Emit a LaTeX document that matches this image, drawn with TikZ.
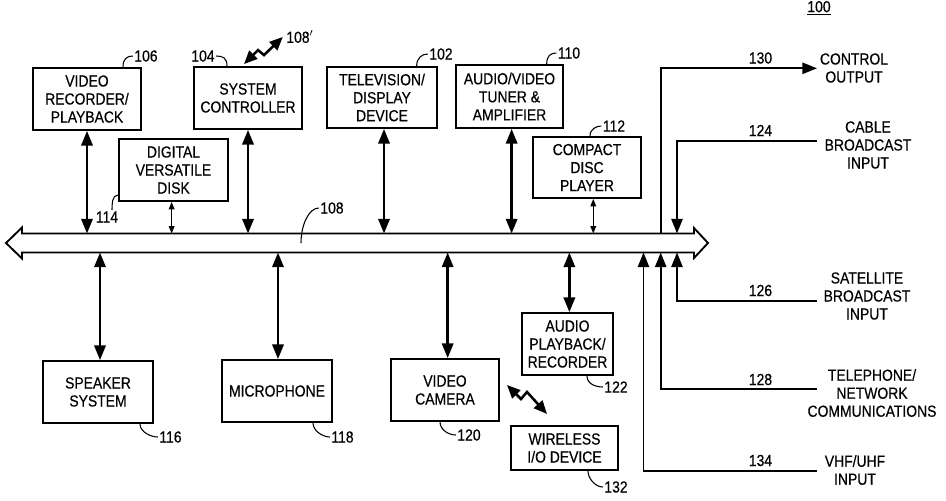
\documentclass[tikz,border=0pt]{standalone}
\usepackage{fontspec}
\setmainfont[FakeStretch=0.87,FakeBold=0.4]{Liberation Sans}
\usetikzlibrary{arrows.meta}
\begin{document}
\begin{tikzpicture}[x=0.75pt,y=-0.75pt,
  every node/.style={font=\fontsize{12}{13.5}\selectfont},
  box/.style={draw,line width=1.4pt,align=center,inner sep=0pt,minimum width=81pt,minimum height=46.5pt},
  txt/.style={align=center,inner sep=1pt},
  num/.style={inner sep=1pt},
  dbl/.style={line width=1.8pt,{Triangle[length=11pt,width=8.5pt]}-{Triangle[length=11pt,width=8.5pt]}},
  thindbl/.style={line width=0.9pt,{Triangle[length=5.5pt,width=4.2pt]}-{Triangle[length=5.5pt,width=4.2pt]}},
  sig/.style={line width=1.3pt,-{Triangle[length=11pt,width=8.5pt]}},
  hook/.style={line width=0.8pt},
  zig/.style={line width=1.9pt,line join=miter,{Triangle[length=10pt,width=8.5pt]}-{Triangle[length=10pt,width=8.5pt]}},
  busline/.style={line width=1.4pt,line join=miter}
]
\useasboundingbox (0,0) rectangle (946,500);
\fill[white] (0,0) rectangle (946,500);

% bus
\draw[busline,fill=white] (22,233.5) -- (694,233.5) -- (694,228) -- (708,243) -- (694,258) -- (694,252.5)
  -- (22,252.5) -- (22,258.5) -- (6,243) -- (22,227.5) -- cycle;
\coordinate (bustop) at (0,233.5);
\coordinate (busbot) at (0,252.5);
\coordinate (bus108) at (301,243);

% boxes top
\node[box,minimum width=81pt,minimum height=46.5pt] (vr) at (87,99) {VIDEO\\RECORDER/\\PLAYBACK};
\node[box,minimum width=81pt,minimum height=46.5pt] (sc) at (248,98) {SYSTEM\\CONTROLLER};
\node[box,minimum width=82.5pt,minimum height=45.75pt] (tv) at (382,97.5) {TELEVISION/\\DISPLAY\\DEVICE};
\node[box,minimum width=80.25pt,minimum height=47.25pt] (av) at (509.5,96.5) {AUDIO/VIDEO\\TUNER \&\\AMPLIFIER};
\node[box,minimum width=81.75pt,minimum height=46.5pt] (dvd) at (173.5,170) {DIGITAL\\VERSATILE\\DISK};
\node[box,minimum width=81pt,minimum height=45.75pt] (cd) at (587,167.5) {COMPACT\\DISC\\PLAYER};

% boxes bottom
\node[box,minimum width=82.5pt,minimum height=46.5pt] (spk) at (98,392) {SPEAKER\\SYSTEM};
\node[box,minimum width=82.5pt,minimum height=46.5pt] (mic) at (277,391) {MICROPHONE};
\node[box,minimum width=81pt,minimum height=46.5pt] (cam) at (445,390) {VIDEO\\CAMERA};
\node[box,minimum width=68.25pt,minimum height=46.5pt] (apr) at (567.5,344) {AUDIO\\PLAYBACK/\\RECORDER};
\node[box,minimum width=80.25pt,minimum height=33pt] (wio) at (564.5,448) {WIRELESS\\I/O DEVICE};

% reference numerals
\node[num] (l100) at (819,8) {\underline{100}};
\node[num] (l106) at (146,56) {106};
\node[num] (l104) at (203,56) {104};
\node[num] (l108p) at (298,37) {108\rlap{$'$}};
\node[num] (l102) at (441,54) {102};
\node[num] (l110) at (569,53) {110};
\node[num] (l112) at (614,126) {112};
\node[num] (l114) at (107,217) {114};
\node[num] (l108) at (332,208) {108};
\node[num] (l116) at (170.5,437) {116};
\node[num] (l118) at (342.5,437) {118};
\node[num] (l120) at (469,435) {120};
\node[num] (l122) at (616,387) {122};
\node[num] (l132) at (616,487) {132};

% hooks
\draw[hook] ([xshift=27pt]vr.north) .. controls +(0,-8) and +(-6,0) .. (l106.west);
\draw[hook] (l104.east) .. controls +(7,0) and +(0,-8) .. ([xshift=-15.75pt]sc.north);
\draw[hook] ([xshift=26pt]tv.north) .. controls +(0,-8) and +(-6,0) .. (l102.west);
\draw[hook] ([xshift=27.9pt]av.north) .. controls +(0,-8) and +(-6,0) .. (l110.west);
\draw[hook] ([xshift=2.25pt]cd.north) .. controls +(0,-7) and +(-5,0) .. (l112.west);
\draw[hook] ([yshift=-18.75pt]dvd.west) .. controls +(-6,0) and +(0,-6) .. ([xshift=3.75pt]l114.north);
\draw[hook] (l108.west) .. controls +(-10,0) and +(0,-18) .. (bus108);
\draw[hook] ([xshift=31.5pt]spk.south) .. controls +(0,8) and +(-7,0) .. (l116.west);
\draw[hook] ([xshift=27pt]mic.south) .. controls +(0,8) and +(-7,0) .. (l118.west);
\draw[hook] ([xshift=-3.75pt]cam.south) .. controls +(0,8) and +(-7,0) .. (l120.west);
\draw[hook] ([xshift=14.6pt]apr.south) .. controls +(0,8) and +(-7,0) .. (l122.west);
\draw[hook] ([xshift=17.6pt]wio.south) .. controls +(0,8) and +(-7,0) .. (l132.west);

% bus connections top
\draw[dbl] (vr.south) -- (vr.south |- bustop);
\draw[dbl] (sc.south) -- (sc.south |- bustop);
\draw[dbl] ([xshift=1.5pt]tv.south) -- ([xshift=1.5pt]tv.south |- bustop);
\draw[dbl] ([xshift=1.6pt]av.south) -- ([xshift=1.6pt]av.south |- bustop);
\draw[thindbl] ([xshift=-1.4pt]dvd.south) -- ([xshift=-1.4pt]dvd.south |- bustop);
\draw[thindbl] ([xshift=4.7pt]cd.south) -- ([xshift=4.7pt]cd.south |- bustop);

% bus connections bottom
\draw[dbl] ([xshift=1.5pt]spk.north) -- ([xshift=1.5pt]spk.north |- busbot);
\draw[dbl] ([xshift=0.75pt]mic.north) -- ([xshift=0.75pt]mic.north |- busbot);
\draw[dbl] ([xshift=2pt]cam.north) -- ([xshift=2pt]cam.north |- busbot);
\draw[dbl] ([xshift=1.4pt]apr.north) -- ([xshift=1.4pt]apr.north |- busbot);

% wireless links
\draw[zig] ([xshift=-3pt,yshift=1.5pt]sc.north) -- ++(14,-14) -- ++(6,5) -- ([xshift=-1.5pt,yshift=0pt]l108p.west);
\coordinate (w1) at (507,385);
\coordinate (w2) at (547,414);
\draw[zig] (w1) -- (521,399) -- (527,392) -- (w2);

% external signals
\node[txt] (tctrl) at (854,68) {CONTROL\\OUTPUT};
\node[txt] (tcable) at (868,145) {CABLE\\BROADCAST\\INPUT};
\node[txt] (tsat) at (867,296) {SATELLITE\\BROADCAST\\INPUT};
\node[txt] (ttel) at (872,393) {TELEPHONE/\\NETWORK\\COMMUNICATIONS};
\node[txt] (tvhf) at (855,470) {VHF/UHF\\INPUT};

\coordinate (e130) at (817,68.3);
\coordinate (e124) at (817,140.7);
\coordinate (e126) at (817,300.7);
\coordinate (e128) at (817,389);
\coordinate (e134) at (817,470.7);
\coordinate (b130) at (660.7,233.5);
\coordinate (b124) at (677,233.5);
\coordinate (b126) at (677,252.5);
\coordinate (b128) at (660.7,252.5);
\coordinate (b134) at (643.5,252.5);

\draw[sig] (b130) |- (e130);
\draw[sig] (e124) -| (b124);
\draw[sig] (e126) -| (b126);
\draw[sig] (e128) -| (b128);
\draw[sig] (e134) -| (b134);

\node[num] (l130) at (760.5,58) {130};
\node[num] (l124) at (760.5,130.5) {124};
\node[num] (l126) at (760.5,290.5) {126};
\node[num] (l128) at (760.5,379.5) {128};
\node[num] (l134) at (760.5,460.5) {134};
\end{tikzpicture}
\end{document}
